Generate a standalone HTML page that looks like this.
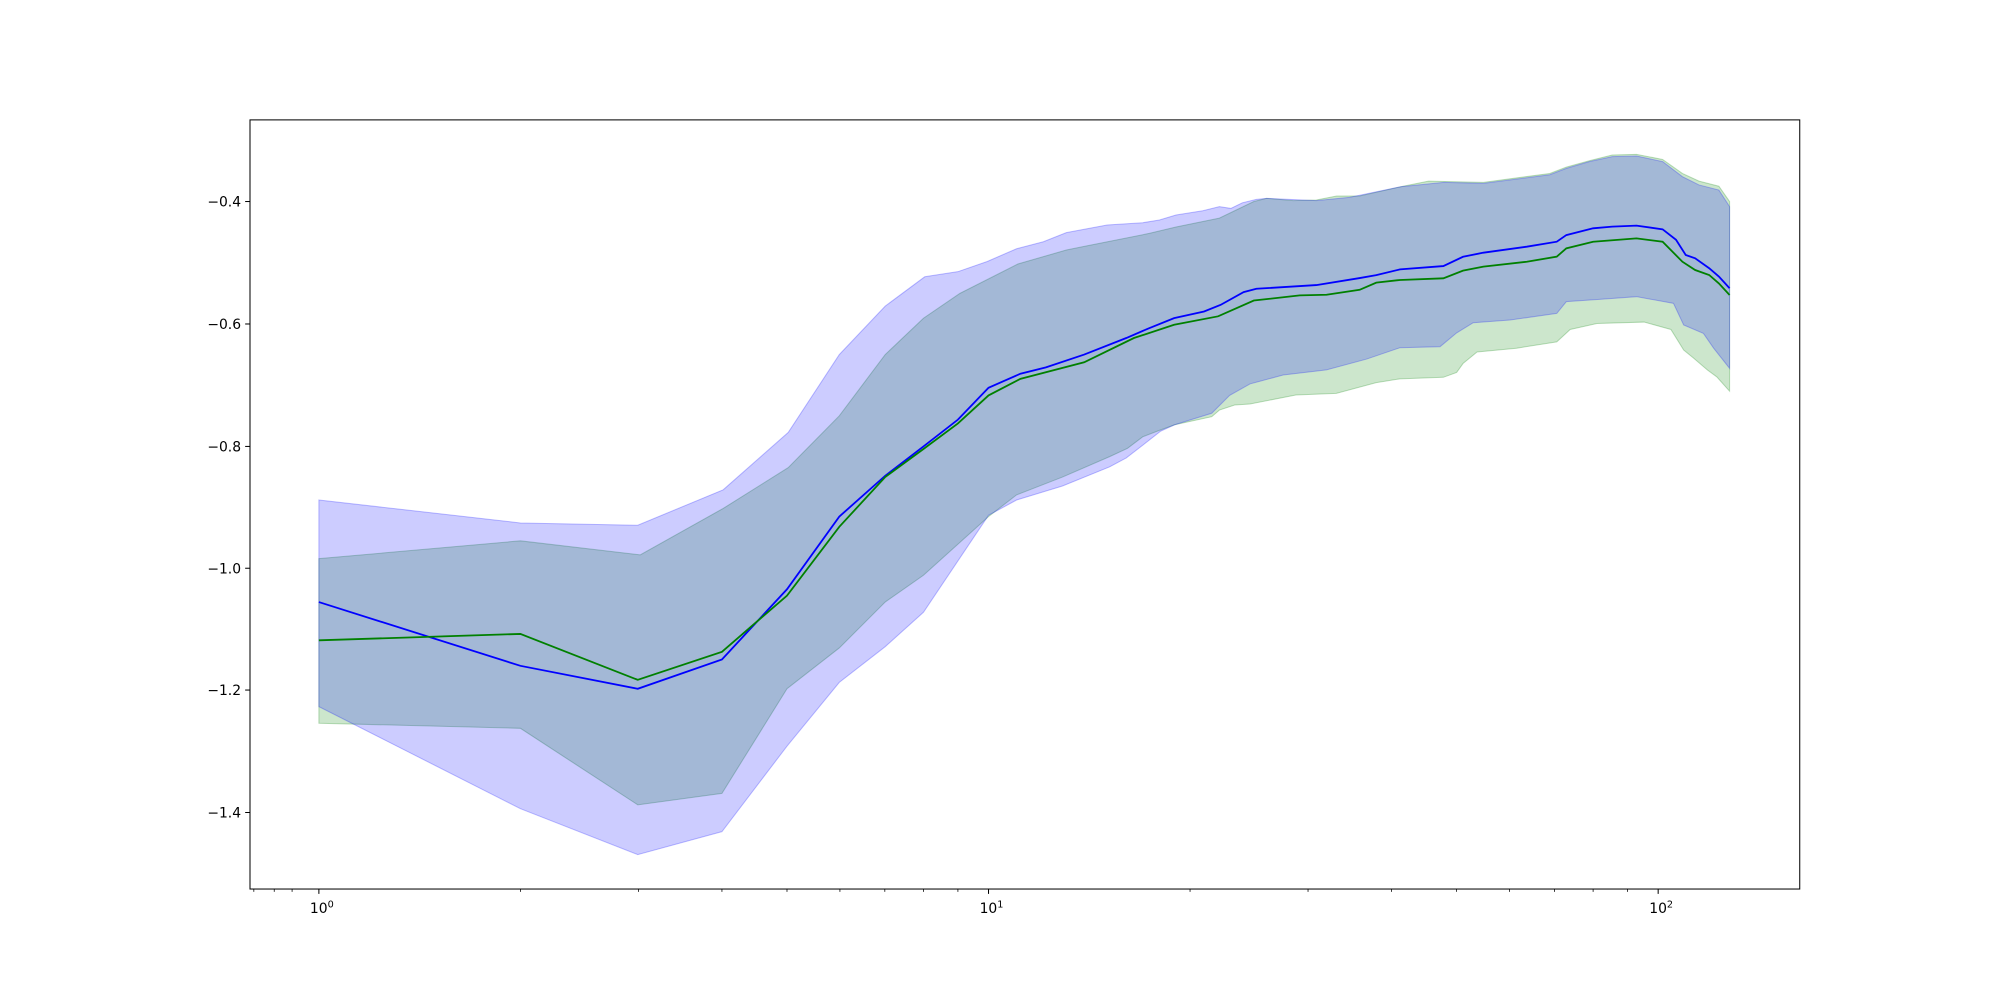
<!DOCTYPE html>
<html><head><meta charset="utf-8"><style>html,body{margin:0;padding:0;background:#fff}svg{display:block}</style></head>
<body>
<svg width="2000" height="1000" viewBox="0 0 1568 784" xmlns="http://www.w3.org/2000/svg" font-family="'DejaVu Sans','Liberation Sans',sans-serif" font-size="10.9">
<rect width="1568" height="784" fill="#fff"/>
<defs><clipPath id="c"><rect x="196" y="94" width="1215" height="603"/></clipPath></defs>
<g clip-path="url(#c)">
<polygon fill="rgba(0,128,0,0.2)" stroke="rgba(0,128,0,0.25)" stroke-width="0.8" points="250,438 408,424 502,435 567,398.6 618,366.6 658,326 694,278 724,249.5 752.6,230 798,207 836,196 852,192.8 901,183 922,178 956,171 983,158 993,155.5 1014,157.3 1032,156.8 1048,153.7 1066,153.7 1100,146 1120,142 1163,143 1215,136 1228,131 1246,126 1264,121.5 1283,121 1303.5,125 1319,136 1332,142 1347.6,146 1356,158 1356,306.7 1346,295.5 1338.5,290 1328,281 1320,274.4 1310,258.3 1289,252.5 1252,253.6 1231,258.3 1220.5,268 1189,273 1158,276 1147,285 1142,292 1131.6,295.8 1097.6,297 1079,300 1047.7,308.4 1016,309.7 980,316.7 968,317.5 956,321.5 950,326.7 921,333 910,337 896,342.4 884,351.5 870,358 833,374 797,388 775,405 724,451 694,472 658,508 617,540 566,622 500,631 408,571 250,567"/>
<polygon fill="rgba(0,0,255,0.2)" stroke="rgba(0,0,255,0.25)" stroke-width="0.8" points="250,392 408,410 500,411.8 567,384 618,339 658,278 694,240 725,217 751,213 774,205 797,195 818,189.5 836,182.4 868,176.4 896,174.6 909,172.5 922,168.6 943,165.2 956,162 965,163.4 974,159 985,156.3 993,155.5 1032,157.3 1058,154.7 1098,146.4 1132,143 1163,143.8 1215,137 1228,132 1246,126.7 1264,122.8 1283,122.3 1303.5,126.7 1319,138.5 1332,145 1347.6,149 1356,162 1356,288.8 1343.5,273 1335.5,261.4 1320,254.8 1312,237.8 1283,232.6 1254,234.7 1228,236.5 1220.5,245.7 1184,250.9 1155,253 1142,261 1129,271.8 1097.6,272.6 1071.5,281.5 1040,290 1006,294 980,301 964,310 950,324 921,333 910,338 896,349 883,359 870,366 833,381 797,392 775,404 724,480 694,507 658,535 617,585 566,652 500,670 408,634 250,554"/>
<polyline fill="none" stroke="#0000ff" stroke-width="1.4" points="250,472 408,522 500,540 566,517 617,462 658,405 694,373 724,350 751,329 775,304 800,293 820,288 850,278 883,265 900,257.7 920.5,249.4 944,244.2 957,239 975,229 985,226.4 1032,223.5 1066,218 1079,215.7 1097.6,211.2 1131.6,208.6 1147,201.3 1163,198.1 1197,193.4 1220.5,189.5 1228,184.3 1249,179 1264,177.7 1283,176.9 1303.5,179.8 1314,188 1321.6,199.9 1329,202.5 1340,210.3 1347.6,216.8 1356,226"/>
<polyline fill="none" stroke="#008000" stroke-width="1.4" points="250,502 408,497 500,533 566,511 617,467 658,413 694,374 724,352 751,332 775,310 800,297 850,284 889,265 920.5,254.6 955,248 983,235.6 1019,231.6 1040,231.1 1066,227.2 1079,221.6 1097.6,219.5 1131.6,218.2 1147,212.2 1163,209 1197,205.2 1220.5,201.2 1228,194.7 1249,189.5 1283,186.9 1303.5,189.5 1319,205.2 1329,211.7 1340,215.6 1347.6,222.2 1356,231.3"/>
</g>
<rect x="196" y="94" width="1215" height="603" fill="none" stroke="#000" stroke-width="0.8"/>
<g stroke="#000" stroke-width="0.8">
<line x1="196" x2="192.2" y1="158" y2="158"/><line x1="196" x2="192.2" y1="254" y2="254"/><line x1="196" x2="192.2" y1="350" y2="350"/><line x1="196" x2="192.2" y1="445.5" y2="445.5"/><line x1="196" x2="192.2" y1="541" y2="541"/><line x1="196" x2="192.2" y1="637" y2="637"/>
<line x1="250" x2="250" y1="697" y2="700.8"/><line x1="775" x2="775" y1="697" y2="700.8"/><line x1="1300" x2="1300" y1="697" y2="700.8"/>
<g stroke-width="0.6">
<line x1="199" x2="199" y1="697" y2="699.2"/><line x1="215" x2="215" y1="697" y2="699.2"/><line x1="229" x2="229" y1="697" y2="699.2"/>
<line x1="408" x2="408" y1="697" y2="699.2"/><line x1="500.5" x2="500.5" y1="697" y2="699.2"/><line x1="566" x2="566" y1="697" y2="699.2"/><line x1="617" x2="617" y1="697" y2="699.2"/><line x1="658.5" x2="658.5" y1="697" y2="699.2"/><line x1="693.7" x2="693.7" y1="697" y2="699.2"/><line x1="724" x2="724" y1="697" y2="699.2"/><line x1="751" x2="751" y1="697" y2="699.2"/>
<line x1="933" x2="933" y1="697" y2="699.2"/><line x1="1025.5" x2="1025.5" y1="697" y2="699.2"/><line x1="1091" x2="1091" y1="697" y2="699.2"/><line x1="1142" x2="1142" y1="697" y2="699.2"/><line x1="1183.5" x2="1183.5" y1="697" y2="699.2"/><line x1="1218.7" x2="1218.7" y1="697" y2="699.2"/><line x1="1249" x2="1249" y1="697" y2="699.2"/><line x1="1276" x2="1276" y1="697" y2="699.2"/>
</g></g>
<g text-anchor="end" fill="#000">
<text x="189" y="162">−0.4</text><text x="189" y="258">−0.6</text><text x="189" y="354">−0.8</text><text x="189" y="449.5">−1.0</text><text x="189" y="545">−1.2</text><text x="189" y="641">−1.4</text>
</g>
<g fill="#000">
<text x="243" y="716">10<tspan font-size="7.6" dy="-4.5">0</tspan></text>
<text x="768" y="716">10<tspan font-size="7.6" dy="-4.5">1</tspan></text>
<text x="1293" y="716">10<tspan font-size="7.6" dy="-4.5">2</tspan></text>
</g>
</svg>
</body></html>
